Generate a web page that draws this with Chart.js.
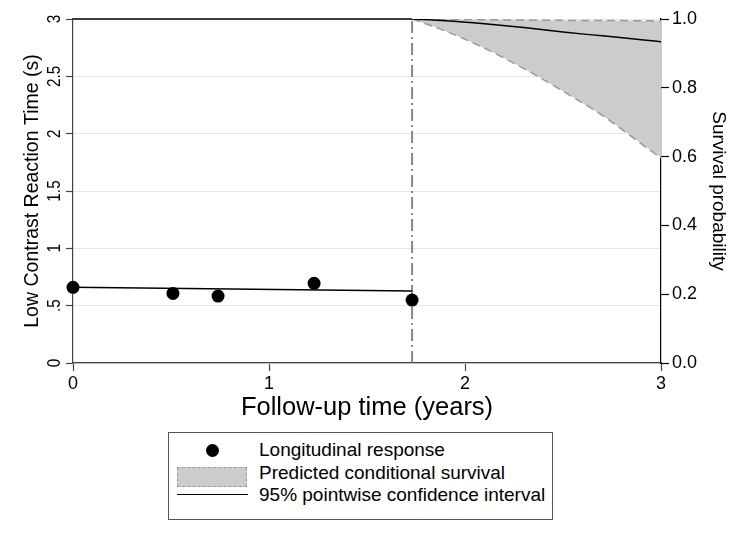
<!DOCTYPE html>
<html>
<head>
<meta charset="utf-8">
<script src="https://cdn.jsdelivr.net/npm/chart.js@4"></script>
<style>
  html, body { margin: 0; padding: 0; background: #fff; }
  #wrap { position: relative; width: 750px; height: 546px; font-family: "Liberation Sans", Arial, Helvetica, sans-serif; }
  #wrap canvas { position: absolute; left: 0; top: 0; }
  #legend { position: absolute; left: 168px; top: 432px; width: 385px; height: 88px; border: 1px solid #555; box-sizing: border-box; background: #fff; }
  .row { position: absolute; left: 0; height: 22px; width: 100%; }
  .lbl { position: absolute; left: 90px; top: 0; line-height: 22px; font-size: 19px; color: #000; white-space: nowrap; }
  .dot { position: absolute; left: 37px; top: 5px; width: 13px; height: 13px; border-radius: 50%; background: #000; }
  .area { position: absolute; left: 8px; top: 5px; width: 70px; height: 20px; background: #cccccc; border: 1.5px dashed #999; box-sizing: border-box; }
  .ln { position: absolute; left: 8px; top: 10px; width: 71px; height: 0; border-top: 1.5px solid #000; }
</style>
</head>
<body>
<div id="wrap">
  <canvas id="c" width="750" height="546"></canvas>
  <div id="legend">
    <div class="row" style="top:6px"><div class="dot"></div><div class="lbl">Longitudinal response</div></div>
    <div class="row" style="top:29px"><div class="area"></div><div class="lbl">Predicted conditional survival</div></div>
    <div class="row" style="top:51px"><div class="ln"></div><div class="lbl">95% pointwise confidence interval</div></div>
  </div>
</div>
<script>
// ---- Data ----
const obsTimes = [0, 0.51, 0.74, 1.23, 1.73];
const obsValues = [0.66, 0.607, 0.584, 0.695, 0.549];

const fitTimes = [0, 1.73];
const fitValues = [0.66, 0.628];

const landmarkTime = 1.73;

const preSurvTimes = [0, 1.73];
const preSurvValues = [1.0, 1.0];

const survTimes = [1.73, 1.9, 2.1, 2.3, 2.5, 2.7, 2.9, 3.0];
const survMean  = [1.0, 0.995, 0.986, 0.975, 0.962, 0.951, 0.940, 0.934];
const survLower = [1.0, 0.965, 0.915, 0.856, 0.79, 0.72, 0.637, 0.596];
const survUpper = [1.0, 0.999, 0.998, 0.997, 0.996, 0.996, 0.995, 0.995];

const xTicks = [0, 1, 2, 3];
const leftTicks = [0, 0.5, 1, 1.5, 2, 2.5, 3];
const leftTickLabels = ["0", ".5", "1", "1.5", "2", "2.5", "3"];
const rightTicks = [0, 0.2, 0.4, 0.6, 0.8, 1.0];

const pts = (xs, ys) => xs.map((x, i) => ({ x: x, y: ys[i] }));

const FONT = '"Liberation Sans", Arial, Helvetica, sans-serif';

const leftLabelsPlugin = {
  id: 'leftLabels',
  afterDraw(chart) {
    const ctx = chart.ctx;
    const ys = chart.scales.y;
    ctx.save();
    ctx.fillStyle = '#000';
    ctx.font = '18px ' + FONT;
    ctx.textAlign = 'center';
    ctx.textBaseline = 'alphabetic';
    leftTicks.forEach((v, i) => {
      const py = ys.getPixelForValue(v);
      ctx.save();
      ctx.translate(60, py);
      ctx.rotate(-Math.PI / 2);
      ctx.scale(0.85, 1);
      ctx.fillText(leftTickLabels[i], 0, 0);
      ctx.restore();
    });
    ctx.restore();
  }
};

new Chart(document.getElementById('c'), {
  type: 'line',
  data: {
    datasets: [
      {
        label: 'Survival upper',
        data: pts(survTimes, survUpper),
        yAxisID: 'y1',
        borderColor: '#9a9a9a',
        borderWidth: 1.5,
        borderDash: [8, 5],
        pointRadius: 0,
        fill: '+1',
        backgroundColor: '#cccccc',
        cubicInterpolationMode: 'monotone',
        order: 5
      },
      {
        label: 'Survival lower',
        data: pts(survTimes, survLower),
        yAxisID: 'y1',
        borderColor: '#9a9a9a',
        borderWidth: 1.5,
        borderDash: [8, 5],
        pointRadius: 0,
        fill: false,
        cubicInterpolationMode: 'monotone',
        order: 4
      },
      {
        label: 'Survival mean',
        data: pts(survTimes, survMean),
        yAxisID: 'y1',
        borderColor: '#000',
        borderWidth: 1.5,
        pointRadius: 0,
        fill: false,
        cubicInterpolationMode: 'monotone',
        order: 3
      },
      {
        label: 'Survival before landmark',
        data: pts(preSurvTimes, preSurvValues),
        yAxisID: 'y1',
        borderColor: '#000',
        borderWidth: 1.5,
        pointRadius: 0,
        fill: false,
        clip: false,
        order: 3
      },
      {
        label: 'Landmark',
        data: pts([landmarkTime, landmarkTime], [0, 3]),
        yAxisID: 'y',
        borderColor: '#666',
        borderWidth: 1.5,
        borderDash: [12, 4, 2, 4],
        pointRadius: 0,
        fill: false,
        order: 6
      },
      {
        label: 'Fitted',
        data: pts(fitTimes, fitValues),
        yAxisID: 'y',
        borderColor: '#000',
        borderWidth: 1.5,
        pointRadius: 0,
        fill: false,
        order: 2
      },
      {
        label: 'Longitudinal response',
        data: pts(obsTimes, obsValues),
        yAxisID: 'y',
        showLine: false,
        pointRadius: 6.5,
        pointBackgroundColor: '#000',
        pointBorderColor: '#000',
        pointBorderWidth: 0,
        clip: false,
        order: 1
      }
    ]
  },
  options: {
    responsive: false,
    animation: false,
    devicePixelRatio: 1,
    layout: { padding: { top: 19, left: 0, right: 0, bottom: 0 } },
    plugins: { legend: { display: false }, tooltip: { enabled: false } },
    scales: {
      x: {
        type: 'linear',
        min: 0, max: 3,
        afterBuildTicks: (s) => { s.ticks = xTicks.map(v => ({ value: v })); },
        afterFit: (s) => { s.height = 546 - 363; },
        border: { display: true, color: '#444', width: 1.2 },
        grid: { drawOnChartArea: false, tickLength: 8, tickColor: '#444', tickWidth: 1.2 },
        ticks: { color: '#000', font: { family: FONT, size: 18 }, padding: 2, maxRotation: 0 },
        title: { display: true, text: 'Follow-up time (years)', color: '#000', font: { family: FONT, size: 25.5 }, padding: { top: 0, bottom: 123 } }
      },
      y: {
        position: 'left',
        min: 0, max: 3,
        afterBuildTicks: (s) => { s.ticks = leftTicks.map(v => ({ value: v })); },
        afterFit: (s) => { s.width = 73; },
        border: { display: true, color: '#444', width: 1.2 },
        grid: { color: '#e6e6e6', lineWidth: 1, tickLength: 7, tickColor: '#444', tickWidth: 1.2 },
        ticks: { display: false },
        title: { display: true, text: 'Low Contrast Reaction Time (s)', color: '#000', font: { family: FONT, size: 19.5 }, padding: { top: 21, bottom: 0 } }
      },
      y1: {
        position: 'right',
        min: 0, max: 1,
        afterBuildTicks: (s) => { s.ticks = rightTicks.map(v => ({ value: v })); },
        afterFit: (s) => { s.width = 750 - 661; },
        border: { display: true, color: '#000', width: 1.2 },
        grid: { drawOnChartArea: false, tickLength: 8, tickColor: '#000', tickWidth: 1.2 },
        ticks: { color: '#000', font: { family: FONT, size: 18 }, padding: 3, callback: (v) => Number(v).toFixed(1) },
        title: { display: true, text: 'Survival probability', color: '#000', font: { family: FONT, size: 19 }, padding: { top: 20, bottom: 0 } }
      }
    }
  },
  plugins: [leftLabelsPlugin]
});
</script>
</body>
</html>
